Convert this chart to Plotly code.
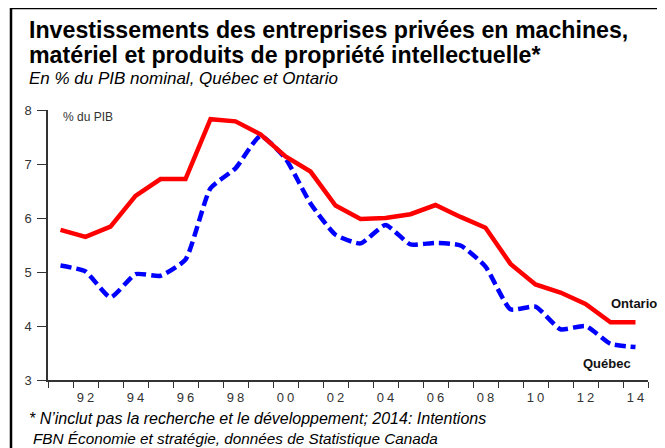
import plotly.graph_objects as go

years = [1991, 1992, 1993, 1994, 1995, 1996, 1997, 1998, 1999, 2000, 2001, 2002,
         2003, 2004, 2005, 2006, 2007, 2008, 2009, 2010, 2011, 2012, 2013, 2014]
ontario = [5.78, 5.65, 5.84, 6.41, 6.72, 6.72, 7.83, 7.79, 7.55, 7.14, 6.86, 6.23,
           5.98, 6.00, 6.07, 6.24, 6.02, 5.82, 5.15, 4.77, 4.62, 4.41, 4.07, 4.07]
quebec = [5.12, 5.01, 4.53, 4.96, 4.93, 5.23, 6.55, 6.92, 7.52, 7.10, 6.27, 5.69,
          5.53, 5.87, 5.51, 5.54, 5.49, 5.10, 4.31, 4.36, 3.94, 4.00, 3.67, 3.61]
tick_years = [1992, 1994, 1996, 1998, 2000, 2002, 2004, 2006, 2008, 2010, 2012, 2014]
tick_labels = ["92", "94", "96", "98", "00", "02", "04", "06", "08", "10", "12", "14"]
y_ticks = [3, 4, 5, 6, 7, 8]

# page body has an 8px margin: the figure is shifted by OFF inside the window
OFF = 8
WIN_W, WIN_H = 665, 448
W, H = WIN_W - OFF, WIN_H - OFF
PLOT_X0, PLOT_X1, PLOT_Y0, PLOT_Y1 = 48, 648, 110, 380  # in window pixels
L, R = PLOT_X0 - OFF, WIN_W - PLOT_X1
T, B = PLOT_Y0 - OFF, WIN_H - PLOT_Y1
pw, ph = PLOT_X1 - PLOT_X0, PLOT_Y1 - PLOT_Y0


def px(x):
    return (x - PLOT_X0) / pw


def py(y):
    return (PLOT_Y1 - y) / ph


def spaced(s):
    return "\u2005".join(s)


fig = go.Figure()
fig.add_trace(go.Scatter(x=years, y=quebec, mode="lines",
                         line=dict(color="#0000ff", width=4.5, dash="11px,5px", shape="spline", smoothing=0.5),
                         showlegend=False, hoverinfo="skip"))
fig.add_trace(go.Scatter(x=years, y=ontario, mode="lines",
                         line=dict(color="#ff0000", width=4.5),
                         showlegend=False, hoverinfo="skip"))

first, last = years[0], years[-1]
fig.update_layout(
    width=W, height=H, autosize=False,
    margin=dict(l=L, r=R, t=T, b=B),
    paper_bgcolor="white", plot_bgcolor="white",
    font=dict(family="Liberation Sans, Arial, sans-serif", color="#222"),
    xaxis=dict(range=[first - 0.5, last + 0.5], showgrid=False, zeroline=False,
               showline=True, linecolor="#333", linewidth=1.5,
               tickmode="array", tickvals=tick_years, ticktext=[spaced(t) for t in tick_labels],
               ticks="", tickfont=dict(size=13, color="#333"), ticklabelstandoff=5,
               minor=dict(tickmode="array",
                          tickvals=[y - 0.5 for y in years] + [last + 0.5],
                          ticks="outside", ticklen=6, tickcolor="#333", tickwidth=1.2)),
    yaxis=dict(range=[3, 8], showgrid=False, zeroline=False,
               showline=True, linecolor="#333", linewidth=1.5,
               tickmode="array", tickvals=y_ticks, ticks="outside", ticklen=9,
               tickcolor="#333", tickwidth=1.2, tickfont=dict(size=13, color="#333"),
               ticklabelstandoff=3),
)

ann = [
    dict(text="<b>Investissements des entreprises privées en machines,</b>", x=px(27), y=py(29.5),
         font=dict(size=23.2, color="#000")),
    dict(text="<b>matériel et produits de propriété intellectuelle*</b>", x=px(27), y=py(55),
         font=dict(size=23.2, color="#000")),
    dict(text="<i>En % du PIB nominal, Québec et Ontario</i>", x=px(27), y=py(78.5),
         font=dict(size=17, color="#000")),
    dict(text="% du PIB", x=px(61), y=py(117), font=dict(size=12, color="#333")),
    dict(text="<i>* N’inclut pas la recherche et le développement; 2014: Intentions</i>", x=px(27), y=py(418),
         font=dict(size=16, color="#000")),
    dict(text="<i>FBN Économie et stratégie, données de Statistique Canada</i>", x=px(31), y=py(438.5),
         font=dict(size=15.3, color="#000")),
    dict(text="<b>Ontario</b>", x=px(609), y=py(303), font=dict(size=13, color="#111")),
    dict(text="<b>Québec</b>", x=px(581), y=py(363), font=dict(size=13, color="#111")),
]
fig.update_layout(annotations=[dict(a, xref="paper", yref="paper", xanchor="left", yanchor="middle",
                                    showarrow=False) for a in ann])

fig.add_shape(type="line", xref="paper", yref="paper", x0=px(11), x1=px(11), y0=py(8), y1=py(WIN_H + 5),
              line=dict(color="#000", width=2.5))
fig.add_shape(type="line", xref="paper", yref="paper", x0=px(11), x1=px(WIN_W + 5), y0=py(8), y1=py(8),
              line=dict(color="#000", width=2.5))

fig.write_html("out.html")
